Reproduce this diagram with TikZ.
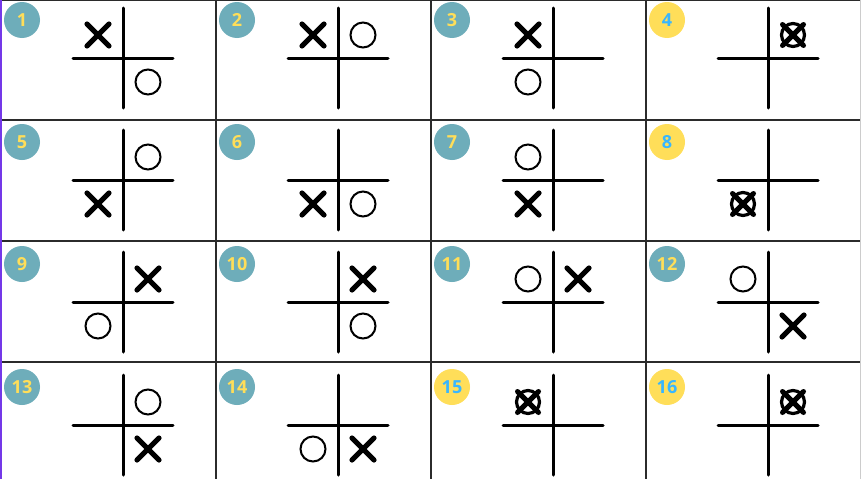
\documentclass[tikz,border=0pt]{standalone}
\usepackage{fontspec}
\setsansfont{Open Sans}
\definecolor{tteal}{HTML}{6EADBA}
\definecolor{tyellow}{HTML}{FFDE59}
\definecolor{tblue}{HTML}{38B6FF}
\definecolor{tgrid}{HTML}{2B2B2B}
\definecolor{tpurple}{HTML}{7438E8}
\tikzset{
  tealbadge/.style={circle,fill=tteal,minimum size=36pt,inner sep=0pt,text=tyellow,font=\sffamily\bfseries\fontsize{18}{18}\selectfont},
  sunbadge/.style={tealbadge,fill=tyellow,text=tblue},
  hash/.style={draw=black,line width=3pt,line cap=round},
  cellline/.style={draw=tgrid,line width=1.3pt},
  xmark/.pic={\draw[line width=5.2pt,line cap=round] (-11,-11) -- (11,11) (-11,11) -- (11,-11);},
  omark/.pic={\draw[line width=2pt] (0,0) circle[radius=12.5];},
  xomark/.pic={\draw[line width=3.2pt] (0,0) circle[radius=11.5];
    \draw[line width=5pt,line cap=round] (-10.5,-10.5) -- (10.5,10.5) (-10.5,10.5) -- (10.5,-10.5);},
}

\begin{document}
\begin{tikzpicture}[x=1pt,y=-1pt]
  \useasboundingbox (0,0) rectangle (861,479);
  \fill[white] (0,0) rectangle (861,479);
  % cell borders
  \foreach \y in {0.7,120,241,362} \draw[cellline] (0,\y) -- (861,\y);
  \foreach \x in {216,431,646} \draw[cellline] (\x,0) -- (\x,479);
  \draw[tpurple,line width=2pt] (1,0) -- (1,479);
  \draw[gray!40,line width=1pt] (860.5,0) -- (860.5,479);
  % boards and badges
  \foreach \n/\cx/\cy/\bs in {1/123/58/tealbadge,2/338/58/tealbadge,3/553/58/tealbadge,4/768/58/sunbadge,
      5/123/180/tealbadge,6/338/180/tealbadge,7/553/180/tealbadge,8/768/180/sunbadge,
      9/123/302/tealbadge,10/338/302/tealbadge,11/553/302/tealbadge,12/768/302/tealbadge,
      13/123/425/tealbadge,14/338/425/tealbadge,15/553/425/sunbadge,16/768/425/sunbadge}{
    \node[\bs] (b\n) at (\cx-101,\cy-38) {\n};
    \coordinate (c\n) at (\cx,\cy);
    \coordinate (c\n-tl) at (\cx-25,\cy-23);
    \coordinate (c\n-tr) at (\cx+25,\cy-23);
    \coordinate (c\n-bl) at (\cx-25,\cy+24);
    \coordinate (c\n-br) at (\cx+25,\cy+24);
    \draw[hash] (\cx,\cy-50) -- (\cx,\cy+50);
    \draw[hash] (\cx-50,\cy) -- (\cx+50,\cy);
  }
  % moves
  \pic at (c1-tl) {xmark}; \pic at (c1-br) {omark};
  \pic at (c2-tl) {xmark}; \pic at (c2-tr) {omark};
  \pic at (c3-tl) {xmark}; \pic at (c3-bl) {omark};
  \pic at (c4-tr) {xomark};
  \pic at (c5-bl) {xmark}; \pic at (c5-tr) {omark};
  \pic at (c6-bl) {xmark}; \pic at (c6-br) {omark};
  \pic at (c7-bl) {xmark}; \pic at (c7-tl) {omark};
  \pic at (c8-bl) {xomark};
  \pic at (c9-tr) {xmark}; \pic at (c9-bl) {omark};
  \pic at (c10-tr) {xmark}; \pic at (c10-br) {omark};
  \pic at (c11-tr) {xmark}; \pic at (c11-tl) {omark};
  \pic at (c12-br) {xmark}; \pic at (c12-tl) {omark};
  \pic at (c13-br) {xmark}; \pic at (c13-tr) {omark};
  \pic at (c14-br) {xmark}; \pic at (c14-bl) {omark};
  \pic at (c15-tl) {xomark};
  \pic at (c16-tr) {xomark};
\end{tikzpicture}
\end{document}
